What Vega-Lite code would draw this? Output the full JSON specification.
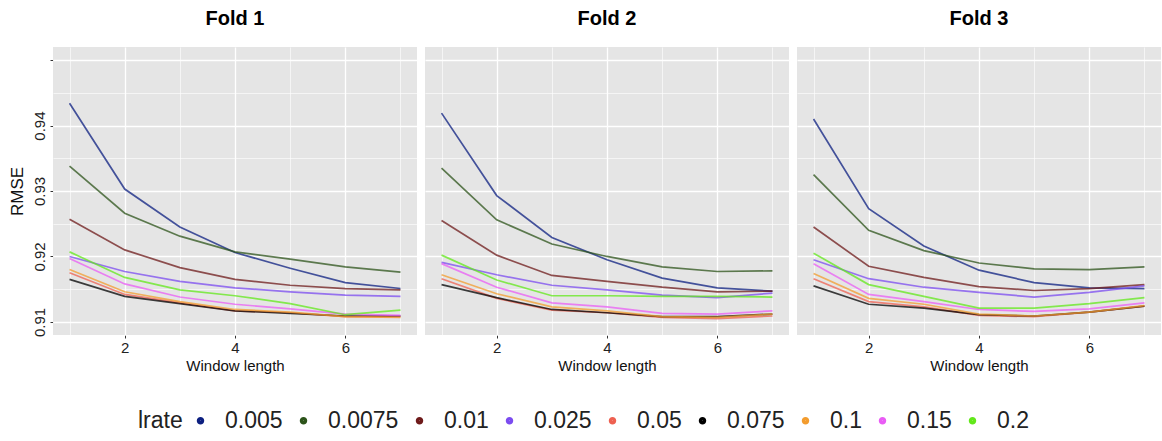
{
  "$schema": "https://vega.github.io/schema/vega-lite/v6.json",
  "padding": {"left": 8, "top": 9, "right": 0, "bottom": 0},
  "data": {"values": [
    {"fold":"Fold 1","lrate":"0.005","w":1,"rmse":0.9434},{"fold":"Fold 1","lrate":"0.005","w":2,"rmse":0.9303},{"fold":"Fold 1","lrate":"0.005","w":3,"rmse":0.9245},{"fold":"Fold 1","lrate":"0.005","w":4,"rmse":0.9206},{"fold":"Fold 1","lrate":"0.005","w":5,"rmse":0.9182},{"fold":"Fold 1","lrate":"0.005","w":6,"rmse":0.9160},{"fold":"Fold 1","lrate":"0.005","w":7,"rmse":0.9151},
    {"fold":"Fold 1","lrate":"0.0075","w":1,"rmse":0.9338},{"fold":"Fold 1","lrate":"0.0075","w":2,"rmse":0.9266},{"fold":"Fold 1","lrate":"0.0075","w":3,"rmse":0.9231},{"fold":"Fold 1","lrate":"0.0075","w":4,"rmse":0.9207},{"fold":"Fold 1","lrate":"0.0075","w":5,"rmse":0.9196},{"fold":"Fold 1","lrate":"0.0075","w":6,"rmse":0.9184},{"fold":"Fold 1","lrate":"0.0075","w":7,"rmse":0.9176},
    {"fold":"Fold 1","lrate":"0.01","w":1,"rmse":0.9257},{"fold":"Fold 1","lrate":"0.01","w":2,"rmse":0.9210},{"fold":"Fold 1","lrate":"0.01","w":3,"rmse":0.9183},{"fold":"Fold 1","lrate":"0.01","w":4,"rmse":0.9165},{"fold":"Fold 1","lrate":"0.01","w":5,"rmse":0.9156},{"fold":"Fold 1","lrate":"0.01","w":6,"rmse":0.9151},{"fold":"Fold 1","lrate":"0.01","w":7,"rmse":0.9149},
    {"fold":"Fold 1","lrate":"0.025","w":1,"rmse":0.9200},{"fold":"Fold 1","lrate":"0.025","w":2,"rmse":0.9177},{"fold":"Fold 1","lrate":"0.025","w":3,"rmse":0.9162},{"fold":"Fold 1","lrate":"0.025","w":4,"rmse":0.9152},{"fold":"Fold 1","lrate":"0.025","w":5,"rmse":0.9146},{"fold":"Fold 1","lrate":"0.025","w":6,"rmse":0.9141},{"fold":"Fold 1","lrate":"0.025","w":7,"rmse":0.9139},
    {"fold":"Fold 1","lrate":"0.05","w":1,"rmse":0.9175},{"fold":"Fold 1","lrate":"0.05","w":2,"rmse":0.9142},{"fold":"Fold 1","lrate":"0.05","w":3,"rmse":0.9129},{"fold":"Fold 1","lrate":"0.05","w":4,"rmse":0.9117},{"fold":"Fold 1","lrate":"0.05","w":5,"rmse":0.9114},{"fold":"Fold 1","lrate":"0.05","w":6,"rmse":0.9108},{"fold":"Fold 1","lrate":"0.05","w":7,"rmse":0.9108},
    {"fold":"Fold 1","lrate":"0.075","w":1,"rmse":0.9165},{"fold":"Fold 1","lrate":"0.075","w":2,"rmse":0.9139},{"fold":"Fold 1","lrate":"0.075","w":3,"rmse":0.9128},{"fold":"Fold 1","lrate":"0.075","w":4,"rmse":0.9117},{"fold":"Fold 1","lrate":"0.075","w":5,"rmse":0.9113},{"fold":"Fold 1","lrate":"0.075","w":6,"rmse":0.9109},{"fold":"Fold 1","lrate":"0.075","w":7,"rmse":0.9109},
    {"fold":"Fold 1","lrate":"0.1","w":1,"rmse":0.9180},{"fold":"Fold 1","lrate":"0.1","w":2,"rmse":0.9146},{"fold":"Fold 1","lrate":"0.1","w":3,"rmse":0.9131},{"fold":"Fold 1","lrate":"0.1","w":4,"rmse":0.9119},{"fold":"Fold 1","lrate":"0.1","w":5,"rmse":0.9115},{"fold":"Fold 1","lrate":"0.1","w":6,"rmse":0.9108},{"fold":"Fold 1","lrate":"0.1","w":7,"rmse":0.9107},
    {"fold":"Fold 1","lrate":"0.15","w":1,"rmse":0.9197},{"fold":"Fold 1","lrate":"0.15","w":2,"rmse":0.9158},{"fold":"Fold 1","lrate":"0.15","w":3,"rmse":0.9138},{"fold":"Fold 1","lrate":"0.15","w":4,"rmse":0.9127},{"fold":"Fold 1","lrate":"0.15","w":5,"rmse":0.9120},{"fold":"Fold 1","lrate":"0.15","w":6,"rmse":0.9112},{"fold":"Fold 1","lrate":"0.15","w":7,"rmse":0.9110},
    {"fold":"Fold 1","lrate":"0.2","w":1,"rmse":0.9207},{"fold":"Fold 1","lrate":"0.2","w":2,"rmse":0.9168},{"fold":"Fold 1","lrate":"0.2","w":3,"rmse":0.9149},{"fold":"Fold 1","lrate":"0.2","w":4,"rmse":0.9140},{"fold":"Fold 1","lrate":"0.2","w":5,"rmse":0.9128},{"fold":"Fold 1","lrate":"0.2","w":6,"rmse":0.9111},{"fold":"Fold 1","lrate":"0.2","w":7,"rmse":0.9118},
    {"fold":"Fold 2","lrate":"0.005","w":1,"rmse":0.9419},{"fold":"Fold 2","lrate":"0.005","w":2,"rmse":0.9293},{"fold":"Fold 2","lrate":"0.005","w":3,"rmse":0.9229},{"fold":"Fold 2","lrate":"0.005","w":4,"rmse":0.9195},{"fold":"Fold 2","lrate":"0.005","w":5,"rmse":0.9167},{"fold":"Fold 2","lrate":"0.005","w":6,"rmse":0.9152},{"fold":"Fold 2","lrate":"0.005","w":7,"rmse":0.9147},
    {"fold":"Fold 2","lrate":"0.0075","w":1,"rmse":0.9335},{"fold":"Fold 2","lrate":"0.0075","w":2,"rmse":0.9256},{"fold":"Fold 2","lrate":"0.0075","w":3,"rmse":0.9219},{"fold":"Fold 2","lrate":"0.0075","w":4,"rmse":0.9200},{"fold":"Fold 2","lrate":"0.0075","w":5,"rmse":0.9184},{"fold":"Fold 2","lrate":"0.0075","w":6,"rmse":0.9177},{"fold":"Fold 2","lrate":"0.0075","w":7,"rmse":0.9178},
    {"fold":"Fold 2","lrate":"0.01","w":1,"rmse":0.9255},{"fold":"Fold 2","lrate":"0.01","w":2,"rmse":0.9202},{"fold":"Fold 2","lrate":"0.01","w":3,"rmse":0.9171},{"fold":"Fold 2","lrate":"0.01","w":4,"rmse":0.9162},{"fold":"Fold 2","lrate":"0.01","w":5,"rmse":0.9153},{"fold":"Fold 2","lrate":"0.01","w":6,"rmse":0.9146},{"fold":"Fold 2","lrate":"0.01","w":7,"rmse":0.9147},
    {"fold":"Fold 2","lrate":"0.025","w":1,"rmse":0.9191},{"fold":"Fold 2","lrate":"0.025","w":2,"rmse":0.9172},{"fold":"Fold 2","lrate":"0.025","w":3,"rmse":0.9156},{"fold":"Fold 2","lrate":"0.025","w":4,"rmse":0.9149},{"fold":"Fold 2","lrate":"0.025","w":5,"rmse":0.9141},{"fold":"Fold 2","lrate":"0.025","w":6,"rmse":0.9137},{"fold":"Fold 2","lrate":"0.025","w":7,"rmse":0.9144},
    {"fold":"Fold 2","lrate":"0.05","w":1,"rmse":0.9166},{"fold":"Fold 2","lrate":"0.05","w":2,"rmse":0.9136},{"fold":"Fold 2","lrate":"0.05","w":3,"rmse":0.9118},{"fold":"Fold 2","lrate":"0.05","w":4,"rmse":0.9114},{"fold":"Fold 2","lrate":"0.05","w":5,"rmse":0.9107},{"fold":"Fold 2","lrate":"0.05","w":6,"rmse":0.9105},{"fold":"Fold 2","lrate":"0.05","w":7,"rmse":0.9109},
    {"fold":"Fold 2","lrate":"0.075","w":1,"rmse":0.9157},{"fold":"Fold 2","lrate":"0.075","w":2,"rmse":0.9137},{"fold":"Fold 2","lrate":"0.075","w":3,"rmse":0.9119},{"fold":"Fold 2","lrate":"0.075","w":4,"rmse":0.9114},{"fold":"Fold 2","lrate":"0.075","w":5,"rmse":0.9108},{"fold":"Fold 2","lrate":"0.075","w":6,"rmse":0.9108},{"fold":"Fold 2","lrate":"0.075","w":7,"rmse":0.9112},
    {"fold":"Fold 2","lrate":"0.1","w":1,"rmse":0.9172},{"fold":"Fold 2","lrate":"0.1","w":2,"rmse":0.9143},{"fold":"Fold 2","lrate":"0.1","w":3,"rmse":0.9123},{"fold":"Fold 2","lrate":"0.1","w":4,"rmse":0.9117},{"fold":"Fold 2","lrate":"0.1","w":5,"rmse":0.9108},{"fold":"Fold 2","lrate":"0.1","w":6,"rmse":0.9107},{"fold":"Fold 2","lrate":"0.1","w":7,"rmse":0.9112},
    {"fold":"Fold 2","lrate":"0.15","w":1,"rmse":0.9189},{"fold":"Fold 2","lrate":"0.15","w":2,"rmse":0.9153},{"fold":"Fold 2","lrate":"0.15","w":3,"rmse":0.9129},{"fold":"Fold 2","lrate":"0.15","w":4,"rmse":0.9123},{"fold":"Fold 2","lrate":"0.15","w":5,"rmse":0.9113},{"fold":"Fold 2","lrate":"0.15","w":6,"rmse":0.9112},{"fold":"Fold 2","lrate":"0.15","w":7,"rmse":0.9117},
    {"fold":"Fold 2","lrate":"0.2","w":1,"rmse":0.9202},{"fold":"Fold 2","lrate":"0.2","w":2,"rmse":0.9164},{"fold":"Fold 2","lrate":"0.2","w":3,"rmse":0.9140},{"fold":"Fold 2","lrate":"0.2","w":4,"rmse":0.9140},{"fold":"Fold 2","lrate":"0.2","w":5,"rmse":0.9139},{"fold":"Fold 2","lrate":"0.2","w":6,"rmse":0.9139},{"fold":"Fold 2","lrate":"0.2","w":7,"rmse":0.9138},
    {"fold":"Fold 3","lrate":"0.005","w":1,"rmse":0.9410},{"fold":"Fold 3","lrate":"0.005","w":2,"rmse":0.9273},{"fold":"Fold 3","lrate":"0.005","w":3,"rmse":0.9216},{"fold":"Fold 3","lrate":"0.005","w":4,"rmse":0.9179},{"fold":"Fold 3","lrate":"0.005","w":5,"rmse":0.9160},{"fold":"Fold 3","lrate":"0.005","w":6,"rmse":0.9152},{"fold":"Fold 3","lrate":"0.005","w":7,"rmse":0.9151},
    {"fold":"Fold 3","lrate":"0.0075","w":1,"rmse":0.9325},{"fold":"Fold 3","lrate":"0.0075","w":2,"rmse":0.9240},{"fold":"Fold 3","lrate":"0.0075","w":3,"rmse":0.9209},{"fold":"Fold 3","lrate":"0.0075","w":4,"rmse":0.9190},{"fold":"Fold 3","lrate":"0.0075","w":5,"rmse":0.9181},{"fold":"Fold 3","lrate":"0.0075","w":6,"rmse":0.9180},{"fold":"Fold 3","lrate":"0.0075","w":7,"rmse":0.9184},
    {"fold":"Fold 3","lrate":"0.01","w":1,"rmse":0.9245},{"fold":"Fold 3","lrate":"0.01","w":2,"rmse":0.9185},{"fold":"Fold 3","lrate":"0.01","w":3,"rmse":0.9168},{"fold":"Fold 3","lrate":"0.01","w":4,"rmse":0.9154},{"fold":"Fold 3","lrate":"0.01","w":5,"rmse":0.9148},{"fold":"Fold 3","lrate":"0.01","w":6,"rmse":0.9151},{"fold":"Fold 3","lrate":"0.01","w":7,"rmse":0.9157},
    {"fold":"Fold 3","lrate":"0.025","w":1,"rmse":0.9195},{"fold":"Fold 3","lrate":"0.025","w":2,"rmse":0.9166},{"fold":"Fold 3","lrate":"0.025","w":3,"rmse":0.9153},{"fold":"Fold 3","lrate":"0.025","w":4,"rmse":0.9145},{"fold":"Fold 3","lrate":"0.025","w":5,"rmse":0.9138},{"fold":"Fold 3","lrate":"0.025","w":6,"rmse":0.9145},{"fold":"Fold 3","lrate":"0.025","w":7,"rmse":0.9155},
    {"fold":"Fold 3","lrate":"0.05","w":1,"rmse":0.9166},{"fold":"Fold 3","lrate":"0.05","w":2,"rmse":0.9131},{"fold":"Fold 3","lrate":"0.05","w":3,"rmse":0.9123},{"fold":"Fold 3","lrate":"0.05","w":4,"rmse":0.9110},{"fold":"Fold 3","lrate":"0.05","w":5,"rmse":0.9108},{"fold":"Fold 3","lrate":"0.05","w":6,"rmse":0.9115},{"fold":"Fold 3","lrate":"0.05","w":7,"rmse":0.9124},
    {"fold":"Fold 3","lrate":"0.075","w":1,"rmse":0.9155},{"fold":"Fold 3","lrate":"0.075","w":2,"rmse":0.9127},{"fold":"Fold 3","lrate":"0.075","w":3,"rmse":0.9121},{"fold":"Fold 3","lrate":"0.075","w":4,"rmse":0.9111},{"fold":"Fold 3","lrate":"0.075","w":5,"rmse":0.9109},{"fold":"Fold 3","lrate":"0.075","w":6,"rmse":0.9115},{"fold":"Fold 3","lrate":"0.075","w":7,"rmse":0.9124},
    {"fold":"Fold 3","lrate":"0.1","w":1,"rmse":0.9174},{"fold":"Fold 3","lrate":"0.1","w":2,"rmse":0.9136},{"fold":"Fold 3","lrate":"0.1","w":3,"rmse":0.9127},{"fold":"Fold 3","lrate":"0.1","w":4,"rmse":0.9112},{"fold":"Fold 3","lrate":"0.1","w":5,"rmse":0.9109},{"fold":"Fold 3","lrate":"0.1","w":6,"rmse":0.9115},{"fold":"Fold 3","lrate":"0.1","w":7,"rmse":0.9125},
    {"fold":"Fold 3","lrate":"0.15","w":1,"rmse":0.9189},{"fold":"Fold 3","lrate":"0.15","w":2,"rmse":0.9142},{"fold":"Fold 3","lrate":"0.15","w":3,"rmse":0.9131},{"fold":"Fold 3","lrate":"0.15","w":4,"rmse":0.9119},{"fold":"Fold 3","lrate":"0.15","w":5,"rmse":0.9116},{"fold":"Fold 3","lrate":"0.15","w":6,"rmse":0.9120},{"fold":"Fold 3","lrate":"0.15","w":7,"rmse":0.9129},
    {"fold":"Fold 3","lrate":"0.2","w":1,"rmse":0.9205},{"fold":"Fold 3","lrate":"0.2","w":2,"rmse":0.9157},{"fold":"Fold 3","lrate":"0.2","w":3,"rmse":0.9139},{"fold":"Fold 3","lrate":"0.2","w":4,"rmse":0.9121},{"fold":"Fold 3","lrate":"0.2","w":5,"rmse":0.9121},{"fold":"Fold 3","lrate":"0.2","w":6,"rmse":0.9128},{"fold":"Fold 3","lrate":"0.2","w":7,"rmse":0.9137}
  ]},
  "facet": {
    "column": {
      "field": "fold", "type": "nominal", "title": null,
      "header": {"labelFontSize": 20, "labelFontWeight": "bold", "labelColor": "#000000", "labelPadding": 18, "labelFont": "Liberation Sans"}
    }
  },
  "spacing": 8,
  "spec": {
    "width": 364,
    "height": 288,
    "mark": {"type": "line", "strokeWidth": 1.7, "opacity": 0.75, "clip": true},
    "encoding": {
      "x": {
        "field": "w", "type": "quantitative",
        "scale": {"domain": [0.7, 7.3], "nice": false, "zero": false},
        "axis": {
          "title": "Window length", "values": [1, 2, 3, 4, 5, 6, 7],
          "labelExpr": "datum.value % 2 == 0 ? datum.label : ''",
          "domain": false, "tickSize": 3,
          "tickColor": {"condition": {"test": "datum.value % 2 == 0", "value": "#333333"}, "value": "transparent"},
          "gridColor": "#ffffff",
          "gridWidth": {"condition": {"test": "datum.value % 2 == 0", "value": 1.3}, "value": 0.6},
          "labelFontSize": 15, "labelColor": "#222222", "labelPadding": 2,
          "titleFontSize": 15, "titleFontWeight": "normal", "titleColor": "#111111", "titlePadding": 3
        }
      },
      "y": {
        "field": "rmse", "type": "quantitative",
        "scale": {"domain": [0.908, 0.952], "nice": false, "zero": false},
        "axis": {
          "title": "RMSE", "values": [0.91, 0.915, 0.92, 0.925, 0.93, 0.935, 0.94, 0.945, 0.95],
          "labelExpr": "(abs(datum.value * 100 - round(datum.value * 100)) < 0.01 && datum.value < 0.945) ? format(datum.value, '.2f') : ''",
          "labelAngle": -90, "labelAlign": "center", "labelBaseline": "bottom",
          "domain": false, "tickSize": 3,
          "tickColor": {"condition": {"test": "abs(datum.value * 100 - round(datum.value * 100)) < 0.01", "value": "#333333"}, "value": "transparent"},
          "gridColor": "#ffffff",
          "gridWidth": {"condition": {"test": "abs(datum.value * 100 - round(datum.value * 100)) < 0.01", "value": 1.3}, "value": 0.6},
          "labelFontSize": 15, "labelColor": "#222222", "labelPadding": 3,
          "titleFontSize": 17, "titleFontWeight": "normal", "titleColor": "#111111", "titlePadding": 6
        }
      },
      "color": {
        "field": "lrate", "type": "nominal",
        "scale": {
          "domain": ["0.005", "0.0075", "0.01", "0.025", "0.05", "0.075", "0.1", "0.15", "0.2"],
          "range": ["#0c1f80", "#2c531a", "#6e1a1a", "#7b4bf0", "#ee6050", "#000000", "#f39c2e", "#e95cf5", "#62e81a"]
        },
        "legend": {
          "orient": "none", "legendX": 85, "legendY": 362,
          "direction": "horizontal", "title": "lrate", "titleOrient": "left",
          "titleFontSize": 23, "titleFontWeight": "normal", "titleColor": "#222222", "titlePadding": 6,
          "titleBaseline": "middle",
          "labelFontSize": 23, "labelColor": "#222222", "labelOffset": 13,
          "columnPadding": 9,
          "symbolType": "circle", "symbolSize": 12, "symbolStrokeWidth": 4, "symbolOpacity": 1
        }
      }
    }
  },
  "config": {
    "font": "Liberation Sans",
    "view": {"fill": "#e5e5e5", "stroke": null}
  }
}
